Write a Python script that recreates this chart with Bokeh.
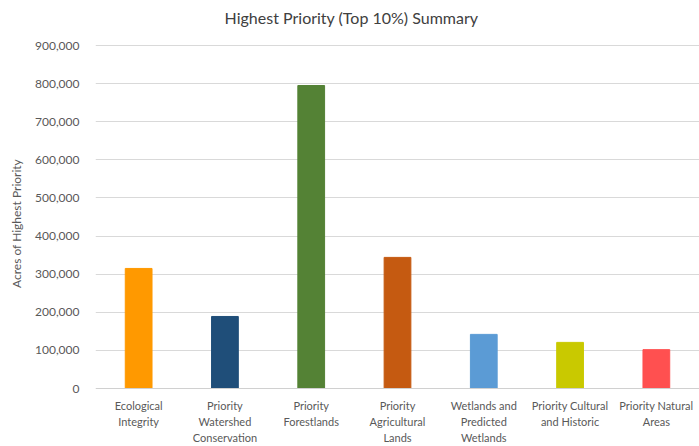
from bokeh.plotting import figure
from bokeh.models import ColumnDataSource, NumeralTickFormatter, FixedTicker, Range1d, Span
from bokeh.core.properties import value
from bokeh.embed import file_html
from bokeh.resources import INLINE

categories = ["Ecological Integrity", "Priority Watershed Conservation", "Priority Forestlands",
              "Priority Agricultural Lands", "Wetlands and Predicted Wetlands",
              "Priority Cultural and Historic", "Priority Natural Areas"]
label_lines = [["Ecological", "Integrity"], ["Priority", "Watershed", "Conservation"],
               ["Priority", "Forestlands"], ["Priority", "Agricultural", "Lands"],
               ["Wetlands and", "Predicted", "Wetlands"], ["Priority Cultural", "and Historic"],
               ["Priority Natural", "Areas"]]
acres = [315000, 189000, 795000, 344000, 142000, 121000, 102000]
colors = ["#FF9900", "#1F4E79", "#548235", "#C55A11", "#5B9BD5", "#C9C900", "#FF5050"]
y_ticks = [0, 100000, 200000, 300000, 400000, 500000, 600000, 700000, 800000, 900000]
title_text = "Highest Priority (Top 10%) Summary"

FONT = "Lato"
source = ColumnDataSource(dict(cat=categories, acres=acres, color=colors))

# frame spans full canvas height; value axis 0..900,000 occupies pixel rows 388..45
px_per_unit = 343 / 900000
y_top = 388 / px_per_unit
y_bottom = -(446 - 388) / px_per_unit

p = figure(x_range=categories, width=699, height=446, output_backend="svg",
           toolbar_location=None, x_axis_location=None,
           min_border_left=95, min_border_right=0, min_border_top=0, min_border_bottom=0)
p.y_range = Range1d(y_bottom, y_top)
p.vbar(x="cat", top="acres", width=0.31, color="color", source=source)

p.outline_line_color = None
p.background_fill_color = "white"
p.border_fill_color = "white"
p.xgrid.grid_line_color = None
p.ygrid.grid_line_color = "#d9d9d9"
p.ygrid.grid_line_width = 1
p.ygrid.ticker = FixedTicker(ticks=y_ticks[1:])
p.add_layout(Span(location=0, dimension="width", line_color="#d0d0d0", line_width=1))

p.yaxis.ticker = FixedTicker(ticks=y_ticks)
p.yaxis.formatter = NumeralTickFormatter(format="0,0")
p.yaxis.axis_line_color = None
p.yaxis.major_tick_line_color = None
p.yaxis.minor_tick_line_color = None
p.yaxis.major_label_text_font = FONT
p.yaxis.major_label_text_font_size = "12px"
p.yaxis.major_label_text_color = "#595959"
p.yaxis.major_label_standoff = 10
p.yaxis.axis_label = "Acres of Highest Priority"
p.yaxis.axis_label_text_font = FONT
p.yaxis.axis_label_text_font_size = "12px"
p.yaxis.axis_label_text_font_style = "normal"
p.yaxis.axis_label_text_color = "#595959"
p.yaxis.axis_label_standoff = 8

lx, ly, loff, ltxt = [], [], [], []
for cat, lines in zip(categories, label_lines):
    for j, line in enumerate(lines):
        lx.append(cat)
        ly.append(0)
        loff.append(17 + 16 * j)
        ltxt.append(line)
p.text(x="lx", y="ly", y_offset="loff", text="ltxt",
       source=ColumnDataSource(dict(lx=lx, ly=ly, loff=loff, ltxt=ltxt)),
       text_align="center", text_baseline="middle",
       text_font=value(FONT), text_font_size="11px", text_color="#595959")

p.text(x=[categories[3]], y=[y_ticks[-1]], text=[title_text], x_offset=-46, y_offset=-28,
       text_align="center", text_baseline="middle",
       text_font=value(FONT), text_font_size="16px", text_color="#404040")

open("out.html", "w").write(file_html(p, INLINE))
